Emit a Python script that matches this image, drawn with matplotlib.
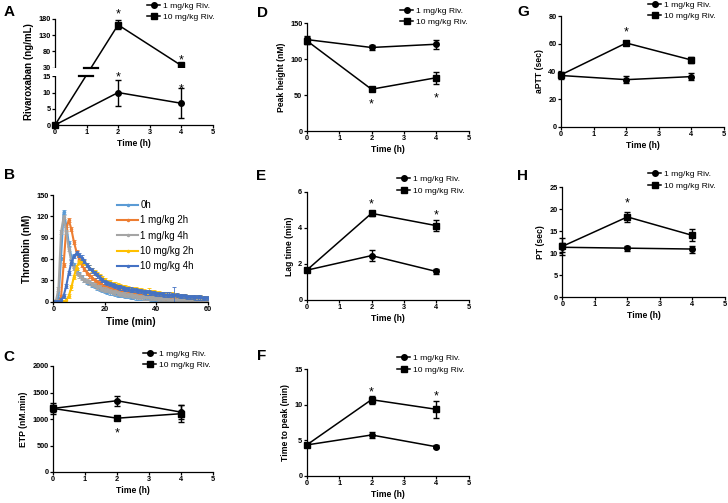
import matplotlib
matplotlib.use("Agg")
import matplotlib.pyplot as plt
import numpy as np

plt.rcParams['font.family'] = ['Liberation Sans', 'DejaVu Sans']

W, H = 728, 503

# ---- data ----
t_h = [0, 2, 4]
lab_1mg = "1 mg/kg Riv."
lab_10mg = "10 mg/kg Riv."

# A rivaroxaban plasma level
a_1mg = [0, 10, 6.7]
a_1mg_err = [0, 4, 4.6]
a_10mg = [0, 162, 37]
a_10mg_err = [0, 14, 1.5]

# B thrombin generation curves
t_min = list(range(0, 61))
b_labels = ["0h", "1 mg/kg 2h", "1 mg/kg 4h", "10 mg/kg 2h", "10 mg/kg 4h"]
b_colors = ["#5B9BD5", "#ED7D31", "#A5A5A5", "#FFC000", "#4472C4"]
b_0h = [0, 0, 4, 62, 126, 108, 82, 63, 51, 44, 39, 35, 31, 28, 26, 24, 22, 20, 18, 16,
        15, 14, 13, 12, 11, 10, 10, 9, 8, 8, 7, 7, 6, 6, 6, 5, 5, 5, 4, 4,
        4, 4, 3, 3, 3, 3, 3, 3, 2, 2, 2, 2, 2, 2, 2, 2, 2, 1, 1, 1, 1]
b_1mg2h = [0, 0, 0, 6, 52, 102, 115, 102, 84, 70, 60, 52, 46, 41, 37, 34, 31, 28, 26, 24,
           22, 21, 19, 18, 17, 16, 15, 14, 13, 13, 12, 11, 11, 10, 10, 9, 9, 8, 8, 8,
           7, 7, 7, 6, 6, 6, 6, 5, 5, 5, 5, 4, 4, 4, 4, 4, 3, 3, 3, 3, 3]
b_1mg4h = [0, 1, 18, 98, 119, 98, 74, 57, 47, 41, 37, 34, 31, 29, 27, 25, 23, 21, 20, 18,
           17, 16, 15, 14, 13, 12, 11, 11, 10, 9, 9, 8, 8, 7, 7, 6, 6, 6, 5, 5,
           5, 4, 4, 4, 4, 3, 3, 3, 3, 3, 3, 2, 2, 2, 2, 2, 2, 2, 2, 2, 2]
b_10mg2h = [0, 0, 0, 0, 0, 2, 8, 20, 35, 48, 56, 57, 55, 52, 48, 45, 42, 39, 36, 33,
            30, 28, 27, 25, 24, 23, 22, 21, 20, 19, 18, 18, 17, 16, 16, 15, 14, 14, 13, 13,
            12, 12, 11, 11, 10, 10, 10, 9, 9, 8, 8, 8, 7, 7, 7, 6, 6, 6, 5, 5, 5]
b_10mg4h = [0, 0, 0, 2, 8, 22, 40, 55, 64, 68, 66, 62, 57, 52, 48, 44, 40, 37, 34, 31,
            28, 26, 25, 23, 22, 21, 20, 19, 18, 18, 17, 16, 16, 15, 15, 14, 13, 13, 12, 12,
            11, 11, 11, 10, 10, 10, 9, 9, 9, 8, 8, 8, 7, 7, 7, 6, 6, 6, 5, 5, 5]
b_sem = [3, 3, 3, 3, 3]
b_big_err = {3: (37, 5), 4: (47, 11)}  # series index: (minute, sem)

# C ETP
c_1mg = [1200, 1345, 1130]
c_1mg_err = [60, 95, 130]
c_10mg = [1200, 1015, 1100]
c_10mg_err = [100, 40, 160]

# D peak height
d_1mg = [127, 116, 120.5]
d_1mg_err = [5, 4, 6.5]
d_10mg = [125.5, 58, 74]
d_10mg_err = [5, 3, 8.5]

# E lag time
e_1mg = [1.65, 2.46, 1.58]
e_1mg_err = [0.1, 0.3, 0.15]
e_10mg = [1.65, 4.8, 4.12]
e_10mg_err = [0.1, 0.12, 0.31]

# F time to peak
f_1mg = [4.35, 5.75, 4.1]
f_1mg_err = [0.2, 0.4, 0.2]
f_10mg = [4.35, 10.7, 9.35]
f_10mg_err = [0.2, 0.55, 1.2]

# G aPTT
g_1mg = [37, 34, 36.2]
g_1mg_err = [2.5, 2.5, 2.5]
g_10mg = [37.5, 60.5, 48.2]
g_10mg_err = [1.5, 1.5, 2]

# H PT
h_1mg = [11.3, 11.1, 10.9]
h_1mg_err = [1.0, 0.6, 0.8]
h_10mg = [11.5, 18.2, 14]
h_10mg_err = [2, 1.2, 1.35]

# significance stars (x, y)
stars = {
    "A": [(2, 207), (4, 64), (2, 21), (4, 12.3)],
    "C": [(2, 802)],
    "D": [(2, 42), (4, 51.5)],
    "E": [(2, 5.5), (4, 4.93)],
    "F": [(2, 12.3), (4, 11.7)],
    "G": [(2, 71)],
    "H": [(2, 22.3)],
}

fig = plt.figure(figsize=(W / 100, H / 100), dpi=100)


def add_ax(l, r, t, b):
    return fig.add_axes([l / W, 1 - b / H, (r - l) / W, (b - t) / H])


def style_ax(ax, tick_size=5.3):
    for s in ["top", "right"]:
        ax.spines[s].set_visible(False)
    for s in ["left", "bottom"]:
        ax.spines[s].set_linewidth(0.9)
    ax.tick_params(direction="out", length=2.2, width=0.9, pad=1, labelsize=tick_size)
    for lb in ax.get_xticklabels() + ax.get_yticklabels():
        lb.set_fontweight("bold")


def put_stars(ax, key, z=6):
    for sx, sy in stars.get(key, []):
        ax.annotate("*", (sx, sy), xytext=(0, -3), textcoords="offset points", ha="center", va="center",
                    fontsize=9, annotation_clip=False, zorder=z)


def gp_panel(ax, y1, e1, y10, e10, ylim, yticks, ylabel, star_key):
    ax.errorbar(t_h, y1, yerr=e1, fmt="none", ecolor="k", elinewidth=1, capsize=2, capthick=1, clip_on=False, zorder=3)
    ax.errorbar(t_h, y10, yerr=e10, fmt="none", ecolor="k", elinewidth=1, capsize=2, capthick=1, clip_on=False, zorder=3)
    ax.plot(t_h, y1, "k-", marker="o", ms=4, lw=1.1, label=lab_1mg, clip_on=False, zorder=4)
    ax.plot(t_h, y10, "k-", marker="s", ms=4, lw=1.1, label=lab_10mg, clip_on=False, zorder=4)
    ax.set_xlim(0, 5)
    ax.set_xticks(range(6))
    ax.set_ylim(*ylim)
    ax.set_yticks(yticks)
    ax.set_xlabel("Time (h)", fontsize=6.2, fontweight="bold", labelpad=2)
    ax.set_ylabel(ylabel, fontsize=6.2, fontweight="bold", labelpad=3)
    put_stars(ax, star_key)
    style_ax(ax)


def gp_legend(ax, x, y):
    ax.legend(loc="upper left", bbox_to_anchor=(x / W, 1 - (y - 4.5) / H), bbox_transform=fig.transFigure,
              frameon=False, fontsize=6.1, handlelength=1.55, handletextpad=0.35, labelspacing=0.38,
              borderpad=0, borderaxespad=0)


def letter(x, y, s):
    fig.text(x / W, 1 - y / H, s, fontsize=11, fontweight="bold", ha="center", va="center")


# ---- A (broken y axis) ----
gap_f = 2.65


def fwd(y):
    y = np.asarray(y, float)
    return np.where(y <= 15, y, np.where(y >= 30, 15 + gap_f + (y - 30) / 10.0, 15 + (y - 15) / 15.0 * gap_f))


def inv(f):
    f = np.asarray(f, float)
    return np.where(f <= 15, f, np.where(f >= 15 + gap_f, 30 + (f - 15 - gap_f) * 10.0, 15 + (f - 15) / gap_f * 15))


axA = add_ax(55, 212.7, 19, 125)
axA.set_yscale("function", functions=(fwd, inv))
axA.errorbar(t_h, a_1mg, yerr=a_1mg_err, fmt="none", ecolor="k", elinewidth=1, capsize=2, capthick=1, clip_on=False, zorder=3)
axA.errorbar(t_h, a_10mg, yerr=a_10mg_err, fmt="none", ecolor="k", elinewidth=1, capsize=2, capthick=1, clip_on=False, zorder=3)
axA.plot(t_h, a_1mg, "k-", marker="o", ms=4, lw=1.1, label=lab_1mg, clip_on=False, zorder=4)
axA.plot(t_h, a_10mg, "k-", marker="s", ms=4, lw=1.1, label=lab_10mg, clip_on=False, zorder=4)
axA.set_xlim(0, 5)
axA.set_xticks(range(6))
axA.set_ylim(0, 180)
axA.set_yticks([0, 5, 10, 15, 30, 80, 130, 180])
axA.axhspan(float(inv(15.15)), float(inv(15 + gap_f - 0.15)), xmin=-0.02, xmax=1, color="white",
            zorder=5, clip_on=False, lw=0)
# break marks on the 10 mg/kg line
for fb in [15, 15 + gap_f]:
    xc = np.interp(fb, [float(fwd(a_10mg[0])), float(fwd(a_10mg[1]))], [t_h[0], t_h[1]])
    axA.plot([xc - 0.22, xc + 0.22], [float(inv(fb)), float(inv(fb))], "k-", lw=1.6, zorder=6, clip_on=False)
axA.set_xlabel("Time (h)", fontsize=6.2, fontweight="bold", labelpad=2)
axA.set_ylabel("Rivaroxaban (ng/mL)", fontsize=7, fontweight="bold", labelpad=3)
put_stars(axA, "A", z=7)
style_ax(axA)
gp_legend(axA, 147, 6.7)
letter(9, 12, "A")

# ---- B ----
axB = add_ax(53.3, 208, 195, 301.7)
b_series = [b_0h, b_1mg2h, b_1mg4h, b_10mg2h, b_10mg4h]
for i, (ys, c, lb) in enumerate(zip(b_series, b_colors, b_labels)):
    err = [b_sem[i]] * len(ys)
    if i in b_big_err:
        m, e = b_big_err[i]
        err[t_min.index(m)] = e
    axB.errorbar(t_min, ys, yerr=err, fmt="none", ecolor=c, elinewidth=0.6, capsize=1.2, capthick=0.6, zorder=2 + i * 0.1)
    axB.plot(t_min, ys, "-", color=c, marker="o", ms=1.5, lw=1.5, label=lb, zorder=2.05 + i * 0.1)
axB.set_xlim(0, 60)
axB.set_xticks([0, 20, 40, 60])
axB.set_ylim(0, 150)
axB.set_yticks(range(0, 151, 30))
axB.set_xlabel("Time (min)", fontsize=7, fontweight="bold", labelpad=3)
axB.set_ylabel("Thrombin (nM)", fontsize=7, fontweight="bold", labelpad=3)
style_ax(axB)
axB.legend(loc="upper left", bbox_to_anchor=(117 / W, 1 - 200 / H), bbox_transform=fig.transFigure,
           frameon=False, fontsize=7, handlelength=2.2, handletextpad=0.2, labelspacing=0.55,
           borderpad=0, borderaxespad=0)
letter(9.5, 175, "B")

# ---- C ----
axC = add_ax(53, 213, 366, 472)
gp_panel(axC, c_1mg, c_1mg_err, c_10mg, c_10mg_err, (0, 2000), range(0, 2001, 500), "ETP (nM.min)", "C")
gp_legend(axC, 143, 354.3)
letter(9, 357, "C")

# ---- D ----
axD = add_ax(306.7, 468.7, 23, 131)
gp_panel(axD, d_1mg, d_1mg_err, d_10mg, d_10mg_err, (0, 150), [0, 50, 100, 150], "Peak height (nM)", "D")
gp_legend(axD, 400, 11.7)
letter(262, 13, "D")

# ---- E ----
axE = add_ax(306.7, 468.7, 191.7, 300)
gp_panel(axE, e_1mg, e_1mg_err, e_10mg, e_10mg_err, (0, 6), [0, 2, 4, 6], "Lag time (min)", "E")
gp_legend(axE, 397, 180)
letter(261, 175.5, "E")

# ---- F ----
axF = add_ax(306.7, 468.7, 369, 476)
gp_panel(axF, f_1mg, f_1mg_err, f_10mg, f_10mg_err, (0, 15), [0, 5, 10, 15], "Time to peak (min)", "F")
gp_legend(axF, 397, 359)
letter(262, 356, "F")

# ---- G ----
axG = add_ax(561, 724, 16, 126.7)
gp_panel(axG, g_1mg, g_1mg_err, g_10mg, g_10mg_err, (0, 80), [0, 20, 40, 60, 80], "aPTT (sec)", "G")
gp_legend(axG, 648, 5.5)
letter(523, 12, "G")

# ---- H ----
axH = add_ax(562.3, 725, 187, 297)
gp_panel(axH, h_1mg, h_1mg_err, h_10mg, h_10mg_err, (0, 25), range(0, 26, 5), "PT (sec)", "H")
gp_legend(axH, 648, 175)
letter(522, 175.5, "H")

fig.savefig("out.png", dpi=100)
